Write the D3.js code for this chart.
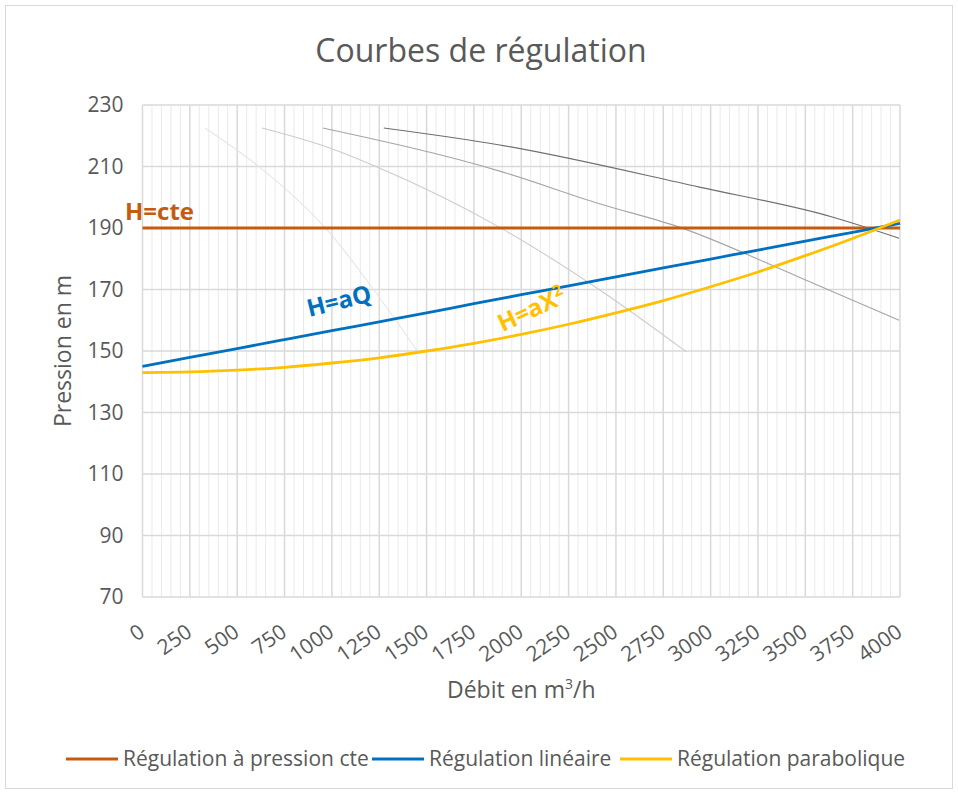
<!DOCTYPE html>
<html>
<head>
<meta charset="utf-8">
<script src="https://cdn.jsdelivr.net/npm/d3@7"></script>
<style>
  body { margin: 0; background: #fff; }
  text { font-family: "Open Sans", sans-serif; }
</style>
</head>
<body>
<svg id="chart" width="958" height="794"></svg>
<script>
// debit (m3/h) for the three regulation series
var debit = [0, 250, 500, 750, 1000, 1250, 1500, 1750, 2000, 2250, 2500, 2750, 3000, 3250, 3500, 3750, 4000];
var hConstante = [190, 190, 190, 190, 190, 190, 190, 190, 190, 190, 190, 190, 190, 190, 190, 190, 190];
var hLineaire = [145, 147.9, 150.8, 153.7, 156.6, 159.5, 162.4, 165.4, 168.3, 171.2, 174.1, 177.0, 179.9, 182.8, 185.7, 188.6, 191.5];
var hParabolique = [143, 143.2, 143.8, 144.7, 146.1, 147.8, 150.0, 152.5, 155.4, 158.7, 162.4, 166.4, 170.9, 175.7, 181.0, 186.6, 192.6];

// pump curves (grey)
var pompe1Q = [330, 636, 989, 1184, 1448];
var pompe1H = [222.5, 208.9, 188.4, 173, 150.3];
var pompe2Q = [631, 989, 1239, 1886, 2413, 2872];
var pompe2H = [222.5, 216, 209.8, 190.2, 169.9, 149.7];
var pompe3Q = [952, 1886, 2413, 2838, 3468, 3995];
var pompe3H = [222.5, 208.5, 197.9, 190.2, 174, 160];
var pompe4Q = [1274, 1886, 2940, 3642, 3995];
var pompe4H = [222.5, 217, 203.3, 193.6, 186.7];

var yTicks = [70, 90, 110, 130, 150, 170, 190, 210, 230];
var xTicks = [0, 250, 500, 750, 1000, 1250, 1500, 1750, 2000, 2250, 2500, 2750, 3000, 3250, 3500, 3750, 4000];
var legendLabels = ["Régulation à pression cte", "Régulation linéaire", "Régulation parabolique"];

var colors = ["#c55a11", "#0070c0", "#ffc000"];
var greys = ["#e6e6e6", "#cccccc", "#a5a5a5", "#6e6e6e"];

var margin = {top: 105, right: 58, bottom: 197, left: 142.5},
    W = 958, H = 794,
    width = W - margin.left - margin.right,
    height = H - margin.top - margin.bottom;

var svg = d3.select("#chart");

// outer frame
svg.append("rect")
    .attr("x", 5.5).attr("y", 5.5)
    .attr("width", W - 11).attr("height", H - 11)
    .attr("fill", "#fff")
    .attr("stroke", "#d9d9d9");

svg.append("text")
    .attr("x", 481).attr("y", 62)
    .attr("text-anchor", "middle")
    .attr("fill", "#595959")
    .style("font-size", "32px")
    .text("Courbes de régulation");

var x = d3.scaleLinear().domain([0, 4000]).range([0, width]);
var y = d3.scaleLinear().domain([70, 230]).range([height, 0]);

var g = svg.append("g")
    .attr("transform", "translate(" + margin.left + "," + margin.top + ")");

// minor vertical grid every 50
g.append("g")
    .selectAll("line")
    .data(d3.range(0, 4001, 50).filter(function (d) { return d % 250 !== 0; }))
    .enter().append("line")
    .attr("x1", x).attr("x2", x)
    .attr("y1", 0).attr("y2", height)
    .attr("stroke", "#eaeaea")
    .attr("stroke-width", 1);

// major grid
g.append("g")
    .selectAll("line")
    .data(xTicks)
    .enter().append("line")
    .attr("x1", x).attr("x2", x)
    .attr("y1", 0).attr("y2", height)
    .attr("stroke", "#d9d9d9")
    .attr("stroke-width", 1.5);

g.append("g")
    .selectAll("line")
    .data(yTicks)
    .enter().append("line")
    .attr("x1", 0).attr("x2", width)
    .attr("y1", y).attr("y2", y)
    .attr("stroke", "#d9d9d9")
    .attr("stroke-width", 1.5);

// y axis labels
var yAxis = g.append("g")
    .call(d3.axisLeft(y).tickValues(yTicks).tickSize(0).tickPadding(19));
yAxis.select(".domain").remove();
yAxis.selectAll("text")
    .attr("fill", "#595959")
    .style("font-size", "21px")
    .style("font-family", "Open Sans");

// x axis labels, rotated
var xAxis = g.append("g")
    .attr("transform", "translate(0," + height + ")")
    .call(d3.axisBottom(x).tickValues(xTicks).tickFormat(d3.format("d")).tickSize(0).tickPadding(0));
xAxis.select(".domain").remove();
xAxis.selectAll("text")
    .attr("fill", "#595959")
    .style("font-size", "21px")
    .style("font-family", "Open Sans")
    .attr("text-anchor", "end")
    .attr("dy", null)
    .attr("y", 0)
    .attr("transform", "translate(3,38) rotate(-35)");

svg.append("text")
    .attr("transform", "translate(71," + (margin.top + height / 2) + ") rotate(-90)")
    .attr("text-anchor", "middle")
    .attr("fill", "#595959")
    .style("font-size", "23px")
    .text("Pression en m");

var xt = svg.append("text")
    .attr("x", margin.left + width / 2).attr("y", 698)
    .attr("text-anchor", "middle")
    .attr("fill", "#595959")
    .style("font-size", "23px");
xt.append("tspan").text("Débit en m");
xt.append("tspan").attr("dy", -9).style("font-size", "14px").text("3");
xt.append("tspan").attr("dy", 9).text("/h");

var line = d3.line()
    .x(function (d) { return x(d[0]); })
    .y(function (d) { return y(d[1]); })
    .curve(d3.curveMonotoneX);

// grey pump curves
var pompes = [[pompe1Q, pompe1H], [pompe2Q, pompe2H], [pompe3Q, pompe3H], [pompe4Q, pompe4H]];
pompes.forEach(function (p, i) {
    g.append("path")
        .datum(d3.zip(p[0], p[1]))
        .attr("d", line)
        .attr("fill", "none")
        .attr("stroke", greys[i])
        .attr("stroke-width", 1.1);
});

var series = [hConstante, hLineaire, hParabolique];
series.forEach(function (s, i) {
    g.append("path")
        .datum(d3.zip(debit, s))
        .attr("d", line)
        .attr("fill", "none")
        .attr("stroke", colors[i])
        .attr("stroke-width", 2.8);
});

// annotations
svg.append("text")
    .attr("x", 125).attr("y", 220)
    .attr("fill", colors[0])
    .style("font-size", "24px").style("font-weight", "bold")
    .text("H=cte");

svg.append("text")
    .attr("transform", "translate(341,309) rotate(-14)")
    .attr("text-anchor", "middle")
    .attr("fill", colors[1])
    .style("font-size", "24px").style("font-weight", "bold")
    .text("H=aQ");

var ax2 = svg.append("text")
    .attr("transform", "translate(535,317) rotate(-25)")
    .attr("text-anchor", "middle")
    .attr("fill", colors[2])
    .style("font-size", "24px").style("font-weight", "bold");
ax2.append("tspan").text("H=aX");
ax2.append("tspan").attr("dy", -9).style("font-size", "16px").text("2");

// legend
var legendX = [66, 372, 620];
var leg = svg.append("g");
legendLabels.forEach(function (t, i) {
    leg.append("line")
        .attr("x1", legendX[i]).attr("x2", legendX[i] + 52)
        .attr("y1", 759).attr("y2", 759)
        .attr("stroke", colors[i])
        .attr("stroke-width", 2.8);
    leg.append("text")
        .attr("x", legendX[i] + 57).attr("y", 766)
        .attr("fill", "#595959")
        .style("font-size", "21px")
        .text(t);
});
</script>
</body>
</html>
